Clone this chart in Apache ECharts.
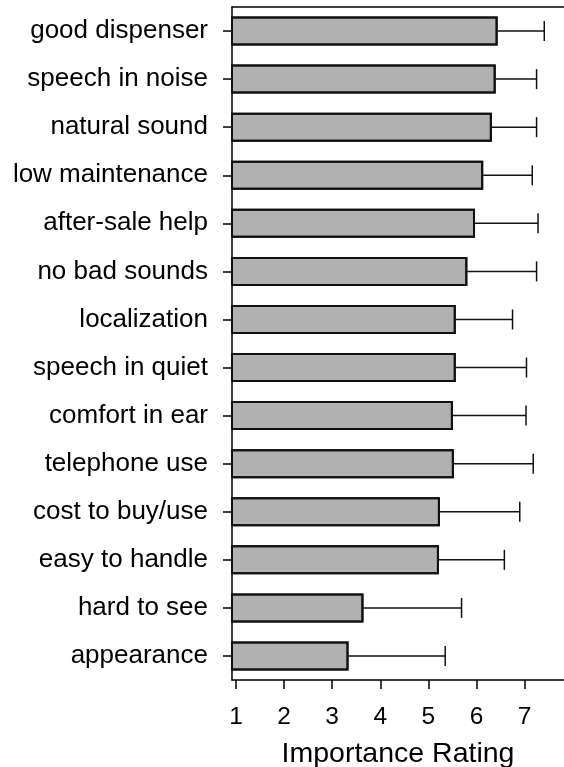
<!DOCTYPE html>
<html>
<head>
<meta charset="utf-8">
<script src="https://cdn.jsdelivr.net/npm/echarts@6/dist/echarts.min.js"></script>
<style>
  html, body { margin: 0; padding: 0; background: #fff; }
  #chart { width: 564px; height: 767px; }
</style>
</head>
<body>
<div id="chart"></div>
<script>
  const categories = ['good dispenser', 'speech in noise', 'natural sound', 'low maintenance',
    'after-sale help', 'no bad sounds', 'localization', 'speech in quiet', 'comfort in ear',
    'telephone use', 'cost to buy/use', 'easy to handle', 'hard to see', 'appearance'];
  const means = [6.44, 6.40, 6.32, 6.14, 5.97, 5.81, 5.57, 5.57, 5.51, 5.53, 5.24, 5.22, 3.65, 3.34];
  const upper = [7.41, 7.25, 7.25, 7.16, 7.28, 7.25, 6.75, 7.04, 7.03, 7.18, 6.90, 6.58, 5.69, 5.35];
  const tickValues = [1, 2, 3, 4, 5, 6, 7];

  const font = 'Liberation Sans, Arial, sans-serif';
  let chart = echarts.init(document.getElementById('chart'));

  let errData = categories.map((c, i) => [i, means[i], upper[i]]);

  let option = {
    animation: false,
    grid: { left: 232, right: 0, top: 7, bottom: 87, outerBoundsMode: 'none', containLabel: false },
    xAxis: [{
      type: 'value',
      min: 0.917,
      max: 7.82,
      axisLine: { show: true, lineStyle: { color: '#000', width: 1.5 } },
      axisTick: { show: true, customValues: tickValues, length: 9, lineStyle: { color: '#000', width: 1.5 } },
      axisLabel: { customValues: tickValues, color: '#000', fontSize: 24.5, fontFamily: font, margin: 25 },
      splitLine: { show: false },
      name: 'Importance Rating',
      nameLocation: 'middle',
      nameGap: 60,
      nameTextStyle: { color: '#000', fontSize: 28.5, fontFamily: font }
    }, {
      type: 'value',
      position: 'top',
      min: 0.917,
      max: 7.82,
      axisLine: { show: true, lineStyle: { color: '#000', width: 1.5 } },
      axisTick: { show: false },
      axisLabel: { show: false },
      splitLine: { show: false }
    }],
    yAxis: {
      type: 'category',
      inverse: true,
      data: categories,
      axisLine: { show: true, lineStyle: { color: '#000', width: 1.5 } },
      axisTick: { show: true, alignWithLabel: true, length: 9, lineStyle: { color: '#000', width: 1.5 } },
      axisLabel: { color: '#000', fontSize: 26, fontFamily: font, margin: 24 }
    },
    series: [{
      type: 'bar',
      data: means,
      barWidth: 29,
      itemStyle: {
        color: '#b3b3b3',
        borderColor: '#111',
        borderWidth: 2,
        decal: {
          symbol: 'rect',
          symbolSize: 0.5,
          dashArrayX: [1, 1],
          dashArrayY: [1, 1],
          color: 'rgba(80,80,80,0.35)'
        }
      }
    }, {
      type: 'custom',
      data: errData,
      encode: { x: [1, 2], y: 0 },
      renderItem: function (params, api) {
        let idx = api.value(0);
        let start = api.coord([api.value(1), idx]);
        let end = api.coord([api.value(2), idx]);
        let style = { stroke: '#111', lineWidth: 1.5 };
        return {
          type: 'group',
          children: [{
            type: 'line',
            shape: { x1: start[0], y1: start[1], x2: end[0], y2: end[1] },
            style: style
          }, {
            type: 'line',
            shape: { x1: end[0], y1: end[1] - 10, x2: end[0], y2: end[1] + 10 },
            style: style
          }]
        };
      },
      z: 3
    }]
  };
  chart.setOption(option);
</script>
</body>
</html>
